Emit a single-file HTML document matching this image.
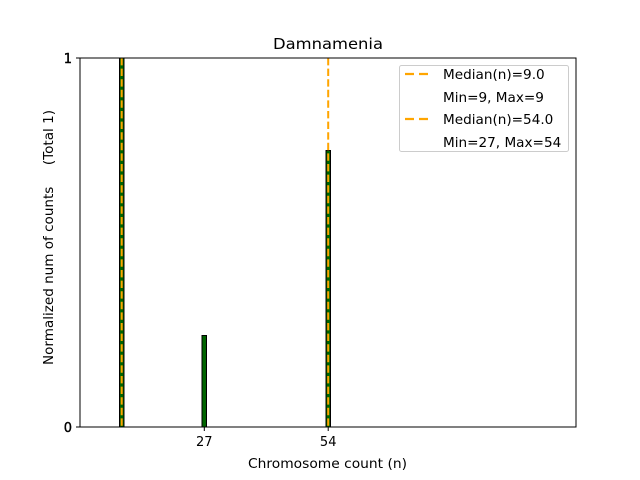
<!DOCTYPE html>
<html><head><style>body{margin:0;background:#fff}svg{display:block}</style></head><body>
<svg width="640" height="480" viewBox="0 0 640 480" xmlns="http://www.w3.org/2000/svg" font-family="'DejaVu Sans','Liberation Sans',sans-serif">
<rect width="640" height="480" fill="#fff"/>
<line x1="80" y1="427" x2="137" y2="427" stroke="#bbb" stroke-width="1"/>
<rect x="119.5" y="58" width="4.5" height="369" fill="#006400" stroke="#000" stroke-width="1"/>
<rect x="202" y="335.5" width="4.5" height="91.5" fill="#006400" stroke="#000" stroke-width="1"/>
<rect x="326" y="150.5" width="4.5" height="276.5" fill="#006400" stroke="#000" stroke-width="1"/>
<line x1="121.7" y1="58" x2="121.7" y2="427" stroke="#FFA500" stroke-width="2" stroke-dasharray="7.4,3.2"/>
<line x1="328.2" y1="58" x2="328.2" y2="427" stroke="#FFA500" stroke-width="2" stroke-dasharray="7.4,3.2"/>
<rect x="80" y="58" width="496" height="369" fill="none" stroke="#000" stroke-width="1"/>
<g stroke="#000" stroke-width="1">
<line x1="76" y1="58" x2="80" y2="58"/><line x1="76" y1="427" x2="80" y2="427"/>
<line x1="204.3" y1="427" x2="204.3" y2="431"/><line x1="328.2" y1="427" x2="328.2" y2="431"/>
</g>
<g font-size="13" fill="#000">
<text x="72" y="63" text-anchor="end" stroke="#000" stroke-width="0.4">1</text>
<text x="72" y="432" text-anchor="end" stroke="#000" stroke-width="0.4">0</text>
<text x="204.3" y="446" text-anchor="middle">27</text>
<text x="328.2" y="446" text-anchor="middle">54</text>
<text x="248" y="468" textLength="159" lengthAdjust="spacingAndGlyphs">Chromosome count (n)</text>
<text transform="translate(53,365) rotate(-90)" textLength="255" lengthAdjust="spacingAndGlyphs" xml:space="preserve">Normalized num of counts     (Total 1)</text>
</g>
<text x="273" y="49" font-size="15.5" textLength="110" lengthAdjust="spacingAndGlyphs">Damnamenia</text>
<rect x="399.5" y="65.5" width="169" height="86" rx="2" fill="#fff" fill-opacity="0.8" stroke="#ccc"/>
<line x1="405" y1="74" x2="433" y2="74" stroke="#FFA500" stroke-width="2.2" stroke-dasharray="9,5"/>
<line x1="405" y1="119" x2="433" y2="119" stroke="#FFA500" stroke-width="2.2" stroke-dasharray="9,5"/>
<g font-size="13.6" fill="#000">
<text x="443" y="79">Median(n)=9.0</text>
<text x="443" y="102">Min=9, Max=9</text>
<text x="443" y="124">Median(n)=54.0</text>
<text x="443" y="147">Min=27, Max=54</text>
</g>
</svg>
</body></html>
